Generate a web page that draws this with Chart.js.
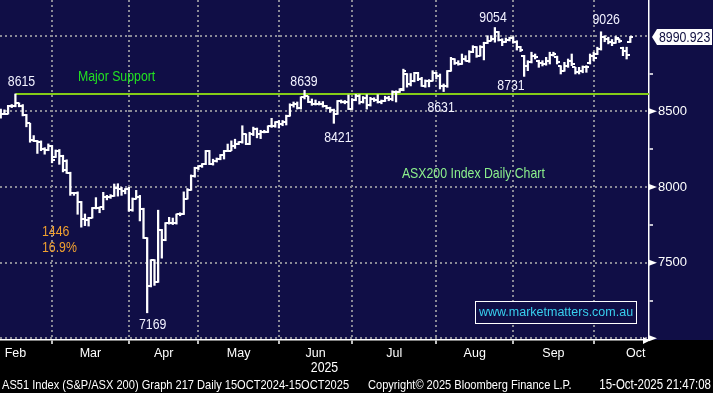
<!DOCTYPE html>
<html>
<head>
<meta charset="utf-8">
<script src="https://cdn.jsdelivr.net/npm/chart.js@4.4.1/dist/chart.umd.min.js"></script>
<style>
html,body{margin:0;padding:0;background:#000;}
canvas{display:block;}
</style>
</head>
<body>
<canvas id="c" width="713" height="393"></canvas>
<script>
// ---- data (trading-day index 0 = 3 Mar 2025) ----
const firstIndex = -14;
const opens = [
 8495,8485,8483,8535,8537,8553,8537,8478,8420,8310,8305,8300,8250,8245,
 8270,8200,8240,8205,8170,8095,7960,7962,7900,7790,7780,7798,7860,7862,7865,7932,7935,7942,7995,7990,7975,
 7985,7845,7924,7937,7858,7666,7346,7516,7372,7716,7648,7760,7762,7765,7820,7822,7924,7980,8072,
 8123,8136,8151,8239,8151,8173,8184,8210,8239,8240,8272,8284,8295,8350,8283,8350,8383,8350,8365,8365,8400,8405,
 8428,8416,8431,8471,8542,8548,8520,8593,8600,8562,8550,8550,8548,8537,8520,8511,8482,8570,8563,8560,
 8515,8577,8600,8560,8590,8540,8580,8575,8560,8568,8590,8580,8625,8630,8640,8745,8681,8700,8752,8714,8669,8703,8700,
 8752,8736,8669,8665,8769,8846,8818,8812,8846,8835,8891,8924,8868,8928,8950,8967,8975,9025,8970,8957,8972,
 8985,8957,8924,8868,8802,8825,8868,8835,8820,8810,8830,8870,8860,8800,8770,8800,8830,8790,8760,8770,8790,8820,
 8868,8880,8915,8990,8975,8960,8955,8975,8920,8900,8960];
const highs = [
 8515,8510,8540,8545,8615,8556,8545,8480,8422,8340,8308,8305,8260,8285,
 8275,8245,8248,8210,8180,8098,7965,7968,7905,7822,7800,7865,7930,7868,7965,7945,7950,8020,8022,7998,7990,
 7998,7928,7978,7945,7860,7666,7520,7520,7847,7720,7765,7800,7795,7822,7830,7968,7990,8080,8131,
 8140,8155,8242,8242,8184,8192,8215,8242,8284,8305,8316,8300,8405,8352,8362,8396,8390,8375,8375,8405,8454,8432,
 8440,8440,8475,8550,8562,8562,8596,8639,8600,8582,8575,8565,8565,8540,8528,8515,8572,8575,8572,8608,
 8585,8612,8610,8598,8610,8593,8590,8610,8575,8600,8600,8636,8636,8650,8779,8750,8750,8758,8758,8725,8708,8710,8769,
 8758,8747,8681,8770,8857,8848,8835,8879,8868,8901,8934,8928,8934,8957,9000,9000,9054,9028,8980,8985,8990,
 8994,8967,8930,8870,8835,8891,8879,8838,8835,8857,8891,8891,8865,8802,8824,8846,8879,8791,8791,8800,8802,8879,
 8891,8924,9026,9000,8990,8975,8995,8979,8924,8924,8995];
const lows = [
 8455,8478,8482,8525,8530,8530,8470,8398,8296,8300,8222,8240,8217,8240,
 8160,8195,8150,8100,8090,7945,7945,7820,7735,7745,7742,7795,7855,7830,7850,7915,7925,7938,7940,7945,7955,
 7840,7840,7920,7776,7660,7169,7340,7350,7370,7530,7645,7755,7752,7755,7810,7818,7920,7978,8065,
 8115,8130,8148,8148,8145,8165,8180,8185,8235,8240,8255,8280,8290,8280,8280,8340,8325,8320,8358,8360,8394,8395,
 8390,8405,8410,8468,8528,8515,8515,8582,8558,8540,8542,8542,8528,8515,8493,8421,8480,8555,8550,8512,
 8512,8570,8548,8555,8515,8535,8565,8555,8550,8565,8570,8570,8562,8625,8636,8660,8668,8695,8703,8665,8659,8662,8700,
 8714,8648,8631,8659,8765,8810,8805,8810,8832,8824,8888,8857,8865,8840,8948,8965,8957,8965,8934,8955,8965,
 8950,8905,8895,8731,8769,8820,8846,8791,8800,8805,8813,8865,8813,8747,8765,8791,8802,8747,8747,8755,8758,8813,
 8835,8875,8905,8960,8946,8934,8950,8955,8868,8846,8955];
const closes = [
 8482,8483,8535,8537,8555,8537,8478,8420,8310,8305,8300,8250,8245,8270,
 8180,8240,8205,8115,8095,7960,7962,7900,7790,7780,7798,7860,7862,7865,7932,7935,7942,7995,7990,7975,7985,
 7845,7924,7937,7858,7666,7343,7516,7372,7716,7648,7760,7762,7765,7820,7822,7924,7980,8072,8123,
 8136,8151,8239,8151,8173,8184,8210,8239,8240,8272,8284,8295,8350,8283,8350,8383,8350,8365,8365,8400,8405,8428,
 8416,8431,8471,8542,8548,8520,8593,8600,8562,8550,8550,8548,8537,8520,8511,8482,8570,8563,8560,8515,
 8577,8600,8560,8590,8540,8580,8575,8560,8568,8590,8580,8625,8630,8645,8769,8681,8700,8752,8714,8669,8703,8700,8752,
 8736,8669,8665,8769,8846,8818,8812,8846,8835,8891,8924,8868,8928,8950,8967,8975,9025,8970,8957,8972,8985,
 8957,8924,8906,8802,8825,8868,8860,8820,8810,8830,8870,8880,8825,8770,8800,8830,8815,8760,8770,8790,8795,8868,
 8850,8915,8990,8975,8960,8950,8985,8962,8900,8870,8990.923];

const monthNames  = ['Feb','Mar','Apr','May','Jun','Jul','Aug','Sep','Oct'];
const monthStarts = [-20, 0, 21, 40, 62, 82, 105, 126, 148, 171]; // first session of Feb..Nov
const yGridTicks  = [7000, 7500, 8000, 8500, 9000];
const yMinorTicks = [7250, 7750, 8250, 8750];
const yLabelTicks = [7500, 8000, 8500];
const supportLevel = 8615;
const supportFrom = -10;
const lastPrice = 8990.923;
const xMin = -14.21, xMax = 163.11;
const yMin = 6989.2, yMax = 9235.9;

const notes = [
  {text:'8615', k:-8.33, v:8694},
  {text:'Major Support', k:7.1, v:8727, color:'#22e022', align:'left'},
  {text:'8639', k:68.85, v:8694},
  {text:'8421', k:78.1, v:8324},
  {text:'8631', k:106.3, v:8522},
  {text:'9054', k:120.5, v:9117},
  {text:'8731', k:125.4, v:8668},
  {text:'9026', k:151.4, v:9104},
  {text:'ASX200 Index Daily Chart', k:95.6, v:8086, color:'#8cf08c', align:'left'},
  {text:'1446', k:-2.73, v:7703, color:'#f0a030', align:'left'},
  {text:'16.9%', k:-2.73, v:7597, color:'#f0a030', align:'left'},
  {text:'7169', k:27.5, v:7088}
];

// ---- styling ----
const SANS = '"Liberation Sans",Arial,sans-serif';
const NAVY = '#100e46';
const GRID = '#8a8a96';
const WHITE = '#f2f2ff';
const SQUEEZE = 0.82;

const bars = [], openPts = [], closePts = [];
for (let i = 0; i < closes.length; i++) {
  const k = firstIndex + i;
  bars.push({x:k, y:[lows[i], highs[i]]});
  openPts.push({x:k, y:opens[i]});
  closePts.push({x:k, y:closes[i]});
}
function tickImg(left){
  const c = document.createElement('canvas'); c.width = 6; c.height = 2;
  const g = c.getContext('2d'); g.fillStyle = '#ffffff';
  g.fillRect(left ? 0 : 3, 0, 3, 2); return c;
}
function narrowText(ctx, text, x, y, size, align, color){
  ctx.save();
  ctx.font = size + 'px ' + SANS;
  ctx.textBaseline = 'middle';
  ctx.textAlign = 'left';
  const w = ctx.measureText(text).width * SQUEEZE;
  const left = align === 'center' ? x - w/2 : align === 'right' ? x - w : x;
  ctx.translate(left, y);
  ctx.scale(SQUEEZE, 1);
  ctx.fillStyle = color;
  ctx.fillText(text, 0, 0);
  ctx.restore();
}
const xTicks = [];
const xLabelAt = new Map();
const xGridSet = new Set();
for (let i = 0; i < monthNames.length; i++) {
  const mid = (monthStarts[i] + monthStarts[i+1]) / 2;
  xTicks.push(mid); xLabelAt.set(mid, monthNames[i]);
}
monthStarts.forEach(s => { if (s > xMin && s < xMax) { xTicks.push(s); xGridSet.add(s); } });
xTicks.sort((a,b)=>a-b);
const yTicks = yGridTicks.concat(yMinorTicks).sort((a,b)=>a-b);

const decor = {
  id:'decor',
  beforeDraw(chart){
    const {ctx, chartArea:a, width, height} = chart;
    ctx.save();
    ctx.fillStyle = '#000'; ctx.fillRect(0,0,width,height);
    ctx.fillStyle = NAVY; ctx.fillRect(0,0,width,a.bottom);
    ctx.restore();
  },
  afterDraw(chart){
    const {ctx, chartArea:a, scales:{x, y}, width} = chart;
    ctx.save();
    ctx.fillStyle = '#fff';
    yGridTicks.forEach(v => {
      if (v === 9000) return;
      const py = y.getPixelForValue(v);
      ctx.beginPath(); ctx.moveTo(a.right, py-3); ctx.lineTo(a.right+8, py); ctx.lineTo(a.right, py+3); ctx.closePath(); ctx.fill();
    });
    // x-axis arrow head
    ctx.beginPath(); ctx.moveTo(a.right-6, a.bottom-3); ctx.lineTo(a.right+1, a.bottom+0.5); ctx.lineTo(a.right-6, a.bottom+4); ctx.closePath(); ctx.fill();
    // last price box
    const py = y.getPixelForValue(lastPrice);
    ctx.beginPath();
    ctx.moveTo(a.right+3, py); ctx.lineTo(a.right+8, py-8); ctx.lineTo(width-1, py-8);
    ctx.lineTo(width-1, py+8); ctx.lineTo(a.right+8, py+8); ctx.closePath(); ctx.fill();
    narrowText(ctx, lastPrice.toFixed(3), a.right+10, py+0.5, 15, 'left', '#101040');
    // annotations
    notes.forEach(n => {
      narrowText(ctx, n.text, x.getPixelForValue(n.k), y.getPixelForValue(n.v), 15, n.align || 'center', n.color || WHITE);
    });
    // website box
    const bx = Math.round(x.getPixelForValue(115.5)), by = Math.round(y.getPixelForValue(7245));
    ctx.fillStyle = NAVY; ctx.fillRect(bx, by, 161, 22);
    ctx.strokeStyle = '#fff'; ctx.lineWidth = 1; ctx.strokeRect(bx+0.5, by+0.5, 161, 22);
    ctx.fillStyle = '#38cfee'; ctx.font = '12.5px ' + SANS; ctx.textAlign = 'center'; ctx.textBaseline = 'middle';
    ctx.fillText('www.marketmatters.com.au', bx+81, by+12);
    // year + footer
    narrowText(ctx, '2025', (a.left + a.right)/2, 368, 15, 'center', '#ffffff');
    narrowText(ctx, 'AS51 Index (S&P/ASX 200) Graph 217 Daily 15OCT2024-15OCT2025', 2, 385, 13.5, 'left', '#ffffff');
    narrowText(ctx, 'Copyright\u00A9 2025 Bloomberg Finance L.P.', 368, 385, 13.5, 'left', '#ffffff');
    narrowText(ctx, '15-Oct-2025 21:47:08', 711, 385, 14, 'right', '#ffffff');
    ctx.restore();
  }
};

Chart.defaults.font.family = SANS;
new Chart(document.getElementById('c'), {
  type:'bar',
  data:{ datasets:[
    {type:'bar', data:bars, backgroundColor:'#ffffff', borderWidth:0, barThickness:1.6, order:3},
    {type:'line', data:openPts, showLine:false, pointStyle:tickImg(true), pointRadius:3, order:2},
    {type:'line', data:closePts, showLine:false, pointStyle:tickImg(false), pointRadius:3, order:2},
    {type:'line', data:[{x:supportFrom,y:supportLevel},{x:xMax,y:supportLevel}], borderColor:'#84cc18', borderWidth:2, pointRadius:0, order:4}
  ]},
  options:{
    responsive:false, animation:false, events:[], devicePixelRatio:1,
    layout:{padding:0, autoPadding:false},
    plugins:{legend:{display:false}, tooltip:{enabled:false}},
    scales:{
      x:{
        type:'linear', position:'bottom', min:xMin, max:xMax, offset:false,
        afterBuildTicks:s => { s.ticks = xTicks.map(v => ({value:v})); },
        afterFit:s => { s.height = 53; s.paddingLeft = 0; s.paddingRight = 0; },
        grid:{ offset:false, lineWidth:2,
          color:c => (c.tick && xGridSet.has(c.tick.value)) ? GRID : 'rgba(0,0,0,0)',
          tickColor:c => (c.tick && xGridSet.has(c.tick.value)) ? '#ffffff' : 'rgba(0,0,0,0)',
          tickLength:4, tickWidth:1.5 },
        border:{display:true, color:'#ffffff', width:1.5, dash:[2,3]},
        ticks:{ autoSkip:false, maxRotation:0, color:'#ffffff', padding:2, font:{size:12.5, family:SANS},
          callback:v => xLabelAt.get(v) || '' }
      },
      y:{
        type:'linear', position:'right', min:yMin, max:yMax,
        afterBuildTicks:s => { s.ticks = yTicks.map(v => ({value:v})); },
        afterFit:s => { s.width = 64; s.paddingTop = 0; s.paddingBottom = 0; },
        grid:{ lineWidth:2,
          color:c => (c.tick && yGridTicks.includes(c.tick.value)) ? GRID : 'rgba(0,0,0,0)',
          tickColor:c => (c.tick && yMinorTicks.includes(c.tick.value)) ? '#ffffff' : 'rgba(0,0,0,0)',
          tickLength:4, tickWidth:1.5 },
        border:{display:true, color:'#ffffff', width:1.5, dash:[2,3]},
        ticks:{ autoSkip:false, color:'#ffffff', padding:5, font:{size:13, family:SANS},
          callback:v => yLabelTicks.includes(v) ? String(v) : '' }
      }
    }
  },
  plugins:[decor]
});
</script>
</body>
</html>
